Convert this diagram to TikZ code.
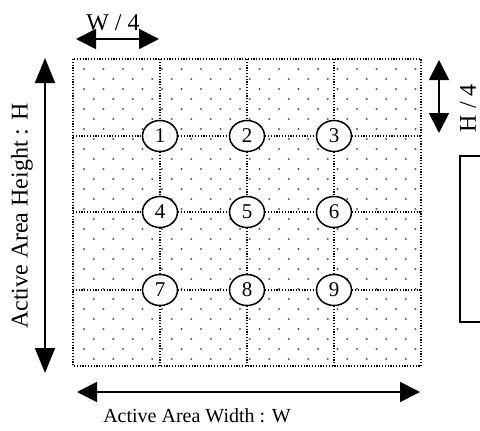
\documentclass[tikz,border=0pt]{standalone}
\usepackage{fontspec}
\setmainfont{Liberation Serif}
\usetikzlibrary{arrows.meta,shapes.geometric}
\definecolor{dotgray}{HTML}{5A5A5A}
\begin{document}
\begin{tikzpicture}[x=1pt,y=-1pt,
  gridline/.style={line width=1.4pt, dash pattern=on 1.2pt off 1.6pt},
  dimarrow/.style={line width=1.8pt, {Triangle[length=20pt,width=20pt]}-{Triangle[length=20pt,width=20pt]}},
  numnode/.style={draw, ellipse, line width=1.5pt, fill=white, minimum width=35pt, minimum height=31pt, inner sep=0pt, font=\fontsize{21}{23}\selectfont},
  biglbl/.style={font=\fontsize{24}{28}\selectfont, inner sep=0pt},
  smalllbl/.style={font=\fontsize{20}{24}\selectfont, inner sep=0pt}]
\useasboundingbox[fill=white] (0,0) rectangle (480,431);
% box corners
\coordinate (tl) at (73,59);
\coordinate (br) at (421,366);
% dot pattern
\begin{scope}
\clip (tl) rectangle (br);
\foreach \i in {0,...,29}{
  \pgfmathsetmacro\yy{69+10*\i}
  \pgfmathsetmacro\xo{mod(\i,2)==0 ? 84 : 93.75}
  \foreach \k in {0,...,17}{
    \pgfmathsetmacro\xx{\xo+19.5*\k}
    \fill[dotgray] (\xx,\yy) circle (1.2pt);
  }
}
\end{scope}
% outer dotted border
\draw[gridline] (tl) rectangle (br);
% numbered circles
\node[numnode] (c1) at (160,136) {1};
\node[numnode] (c2) at (247,136) {2};
\node[numnode] (c3) at (334,136) {3};
\node[numnode] (c4) at (160,212) {4};
\node[numnode] (c5) at (247,212) {5};
\node[numnode] (c6) at (334,212) {6};
\node[numnode] (c7) at (160,290) {7};
\node[numnode] (c8) at (247,290) {8};
\node[numnode] (c9) at (334,290) {9};
% grid line end points
\coordinate (hL1) at (73,136);  \coordinate (hR1) at (421,136);
\coordinate (hL2) at (73,212);  \coordinate (hR2) at (421,212);
\coordinate (hL3) at (73,290);  \coordinate (hR3) at (421,290);
\coordinate (vT1) at (160,59);  \coordinate (vB1) at (160,366);
\coordinate (vT2) at (247,59);  \coordinate (vB2) at (247,366);
\coordinate (vT3) at (334,59);  \coordinate (vB3) at (334,366);
\draw[gridline] (hL1) -- (c1) -- (c2) -- (c3) -- (hR1);
\draw[gridline] (hL2) -- (c4) -- (c5) -- (c6) -- (hR2);
\draw[gridline] (hL3) -- (c7) -- (c8) -- (c9) -- (hR3);
\draw[gridline] (vT1) -- (c1) -- (c4) -- (c7) -- (vB1);
\draw[gridline] (vT2) -- (c2) -- (c5) -- (c8) -- (vB2);
\draw[gridline] (vT3) -- (c3) -- (c6) -- (c9) -- (vB3);
% dimension arrows
\coordinate (wqL) at (76,39);  \coordinate (wqR) at (159,39);
\coordinate (hT) at (45,58);   \coordinate (hB) at (45,373);
\coordinate (hqT) at (439,60); \coordinate (hqB) at (439,133);
\coordinate (wL) at (77,392);  \coordinate (wR) at (420,392);
\draw[dimarrow] (wqL) -- (wqR);
\draw[line width=1.8pt, {Triangle[length=25pt,width=20pt]}-{Triangle[length=25pt,width=20pt]}] (hT) -- (hB);
\draw[dimarrow] (hqT) -- (hqB);
\draw[dimarrow] (wL) -- (wR);
% labels
\node[biglbl] (wq) at (113,23) {W / 4};
\node[biglbl, rotate=90] (hq) at (468,108) {H / 4};
\node[biglbl, rotate=90] (hlbl) at (22,216) {Active Area Height : H};
\node[smalllbl] (wlbl) at (197,416) {Active Area Width : W};
% right box (partially visible)
\draw[line width=2pt] (460,156) rectangle (500,322);
\end{tikzpicture}
\end{document}
